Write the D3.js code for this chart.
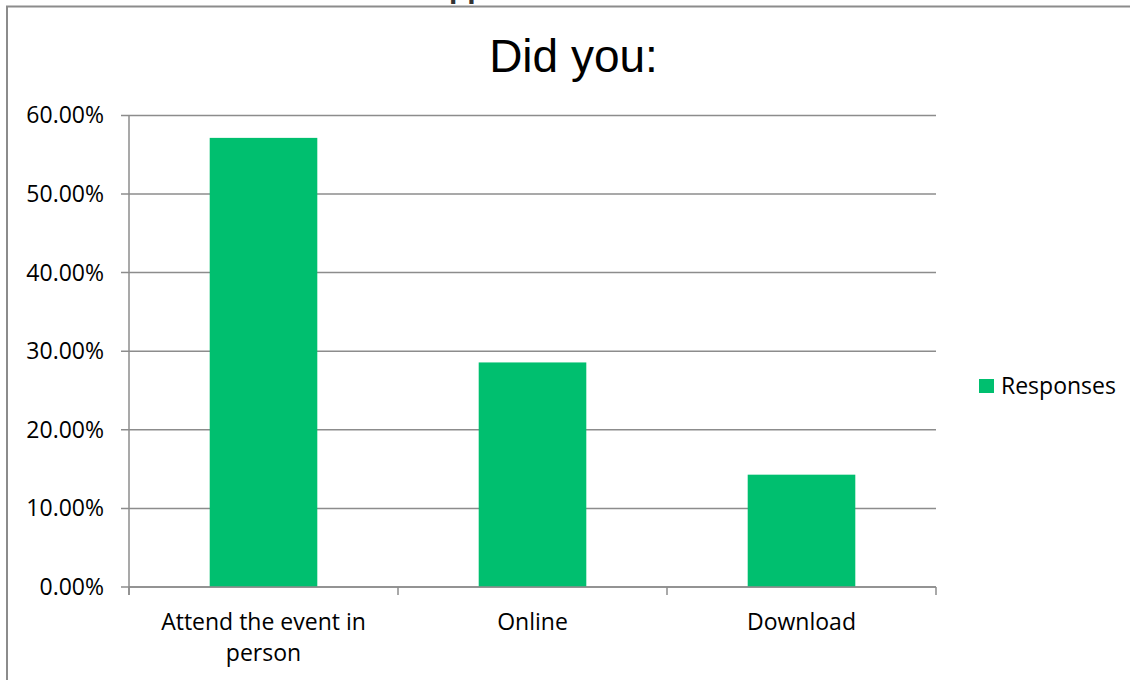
<!DOCTYPE html>
<html><head><meta charset="utf-8">
<script src="https://cdn.jsdelivr.net/npm/d3@7"></script>
<style>
html,body{margin:0;padding:0;background:#fff;}
svg{display:block;}
</style></head>
<body>
<script>
const categories = ["Attend the event in person", "Online", "Download"];
const responses = [57.14, 28.57, 14.29];
const yTicks = [0, 10, 20, 30, 40, 50, 60];
const seriesName = "Responses";
const chartTitle = "Did you:";

const W = 1130, H = 680;
const svg = d3.select("body").append("svg").attr("width", W).attr("height", H);

// outer frame (cut off at right/bottom)
svg.append("path").attr("d", "M7,690 L7,6.5 L1140,6.5")
  .attr("fill", "none").attr("stroke", "#8c8c8c").attr("stroke-width", 2);

// cut-off text above the chart frame
svg.append("text").attr("x", 449).attr("y", -2.5)
  .attr("font-family", "Liberation Sans, Arial, sans-serif").attr("font-weight", "bold")
  .attr("font-size", 30).attr("fill", "#333").text("pp");

const m = {left: 129, right: 936, top: 115.4, bottom: 587};
const x = d3.scaleBand().domain(categories).range([m.left, m.right]).paddingInner(0.6).paddingOuter(0.3);
const xEdge = d3.scaleBand().domain(categories).range([m.left, m.right]).padding(0);
const y = d3.scaleLinear().domain([0, 60]).range([m.bottom, m.top]);

const font = "'Open Sans', 'Noto Sans', sans-serif";
const fs = 23;

// gridlines
svg.append("g").selectAll("line").data(yTicks).join("line")
  .attr("x1", m.left - 8).attr("x2", m.right)
  .attr("y1", d => y(d)).attr("y2", d => y(d))
  .attr("stroke", "#8c8c8c").attr("stroke-width", 1.5);

// y axis line
svg.append("line").attr("x1", m.left).attr("x2", m.left).attr("y1", m.top).attr("y2", m.bottom + 8)
  .attr("stroke", "#8c8c8c").attr("stroke-width", 1.5);

// y labels
svg.append("g").selectAll("text").data(yTicks).join("text")
  .attr("x", m.left - 25).attr("y", d => y(d)).attr("dy", "0.35em")
  .attr("text-anchor", "end").attr("font-family", font).attr("font-size", fs).attr("fill", "#000")
  .text(d => d3.format(".2f")(d) + "%");

// bars
svg.append("g").selectAll("rect").data(categories).join("rect")
  .attr("x", d => x(d)).attr("width", x.bandwidth())
  .attr("y", (d, i) => y(responses[i])).attr("height", (d, i) => y(0) - y(responses[i]))
  .attr("fill", "#00BF6F");

// x axis line over bars
svg.append("line").attr("x1", m.left).attr("x2", m.right).attr("y1", m.bottom).attr("y2", m.bottom)
  .attr("stroke", "#8c8c8c").attr("stroke-width", 1.5);

// category tick marks
const edges = categories.map(c => xEdge(c)).concat([m.right]);
svg.append("g").selectAll("line").data(edges).join("line")
  .attr("x1", d => d).attr("x2", d => d).attr("y1", m.bottom).attr("y2", m.bottom + 8)
  .attr("stroke", "#8c8c8c").attr("stroke-width", 1.5);

// category labels (wrapped like the reference)
const labelLines = {"Attend the event in person": ["Attend the event in", "person"], "Online": ["Online"], "Download": ["Download"]};
const lg = svg.append("g");
categories.forEach(c => {
  const cx = xEdge(c) + xEdge.bandwidth() / 2;
  const t = lg.append("text").attr("text-anchor", "middle").attr("font-family", font)
    .attr("font-size", fs).attr("fill", "#000");
  labelLines[c].forEach((ln, j) => {
    t.append("tspan").attr("x", cx).attr("y", 630 + j * 31).text(ln);
  });
});

// title
svg.append("text").attr("x", 573.5).attr("y", 72).attr("text-anchor", "middle")
  .attr("font-family", "'Liberation Sans', Arial, sans-serif").attr("font-size", 46).attr("fill", "#000")
  .text(chartTitle);

// legend
svg.append("rect").attr("x", 979).attr("y", 379).attr("width", 15).attr("height", 14).attr("fill", "#00BF6F");
svg.append("text").attr("x", 1001).attr("y", 394).attr("font-family", font).attr("font-size", fs)
  .attr("fill", "#000").text(seriesName);
</script>
</body></html>
